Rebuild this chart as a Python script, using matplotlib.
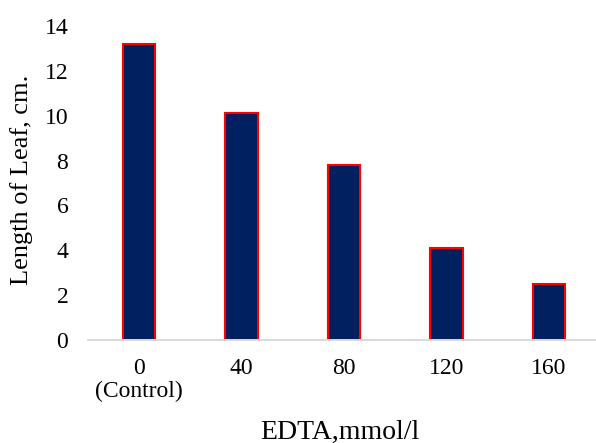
import matplotlib
matplotlib.use("Agg")
import matplotlib.pyplot as plt

# EDTA concentration (mmol/l) vs. leaf length (cm)
categories = ["0\n(Control)", "40", "80", "120", "160"]
leaf_length = [13.2, 10.1, 7.8, 4.1, 2.5]
y_ticks = [0, 2, 4, 6, 8, 10, 12, 14]

plt.rcParams["font.family"] = ["Liberation Serif", "DejaVu Serif"]

W, H = 596, 443
fig = plt.figure(figsize=(W / 100, H / 100), dpi=100)
ax = fig.add_axes([87.75 / W, 103 / H, 512.5 / W, 314 / H])

x = range(len(categories))
ax.bar(x, leaf_length, width=0.32, color="#002060",
       edgecolor="#ff0000", linewidth=1.5, zorder=2)

ax.set_xlim(-0.5, len(categories) - 0.5)
ax.set_ylim(0, 14)
ax.set_yticks(y_ticks)
ax.set_xticks(list(x))
ax.set_xticklabels(categories)
for lbl in ax.get_xticklabels():
    lbl.set_linespacing(1.12)

ax.tick_params(axis="both", length=0, labelsize=17, colors="black")
ax.tick_params(axis="x", pad=13)
ax.tick_params(axis="y", pad=14)

for sp in ("top", "right", "left"):
    ax.spines[sp].set_visible(False)
ax.spines["bottom"].set_color("#d9d9d9")
ax.spines["bottom"].set_linewidth(1.4)
ax.spines["bottom"].set_zorder(3)

fig.text(22 / W, 1 - 180 / H, "Length of Leaf, cm.", rotation=90,
         ha="center", va="center", fontsize=19)
fig.text(340 / W, 1 - 432 / H, "EDTA,mmol/l",
         ha="center", va="center", fontsize=20)

fig.savefig("out.png", dpi=100)
